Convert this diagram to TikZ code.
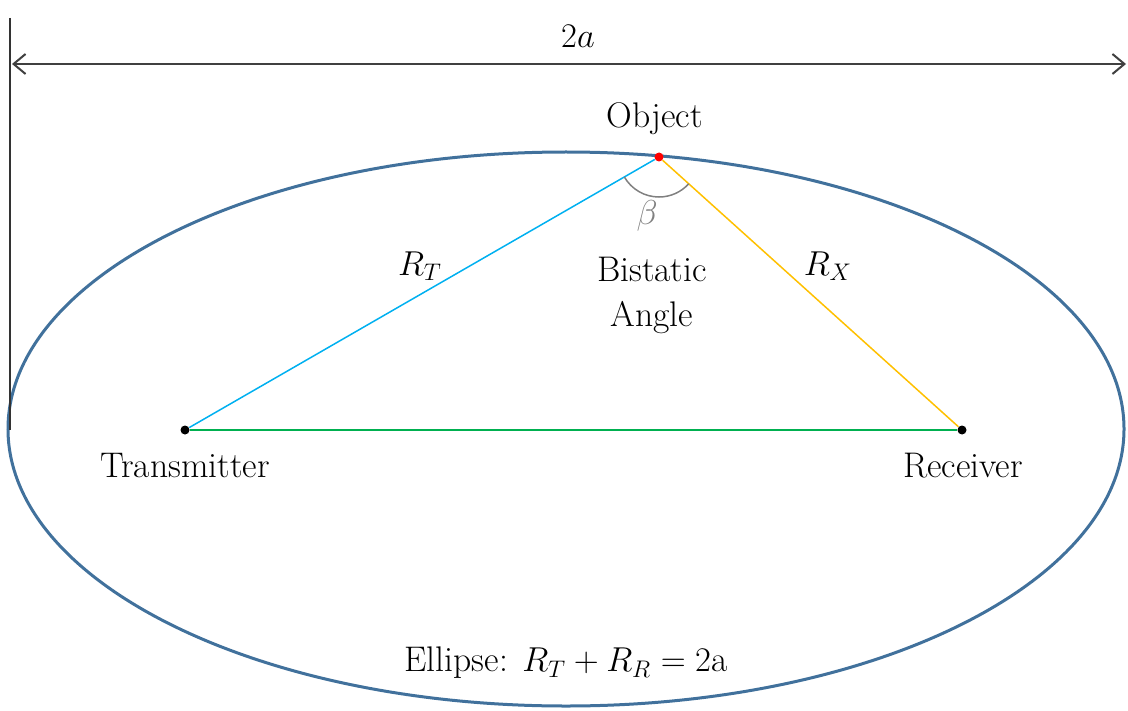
\documentclass[tikz,border=0pt]{standalone}
\usepackage{amsmath}
\usepackage{fontspec}
\usepackage{tikz}
\usetikzlibrary{arrows.meta, positioning}
\definecolor{ellblue}{RGB}{65,113,156}
\definecolor{txcyan}{RGB}{0,176,240}
\definecolor{rxgold}{RGB}{255,192,0}
\definecolor{basegreen}{RGB}{0,176,80}
\definecolor{arcgray}{RGB}{128,128,128}
\tikzstyle{txt}     = [font=\fontsize{17.8}{22.5}\selectfont, align=center, inner sep=0pt]
\tikzstyle{site}    = [circle, fill=black, minimum size=4.5pt, inner sep=0pt]
\tikzstyle{target}  = [circle, fill=red, minimum size=4.5pt, inner sep=0pt]
\tikzstyle{leg}     = [line width=0.75pt]
\tikzstyle{dimline} = [line width=1pt, draw=black!75, {Straight Barb[length=6pt,width=10pt]}-{Straight Barb[length=6pt,width=10pt]}]

\begin{document}
\begin{tikzpicture}[x=0.5pt, y=-0.5pt]
    \useasboundingbox (0,0) rectangle (1128,711);

    % ellipse of constant range sum
    \draw [ellblue, line width=1.5pt] (566,429) ellipse [x radius=279pt, y radius=138.5pt];

    % sites
    \node (tx)  [site]   at (185,430) {};
    \node (rx)  [site]   at (962,430) {};
    \node (obj) [target] at (659,157) {};

    % paths
    \draw [leg, basegreen] (tx) -- (rx);
    \draw [leg, txcyan]    (tx) -- (obj);
    \draw [leg, rxgold]    (obj) -- (rx);

    % bistatic angle
    \draw [arcgray, line width=0.75pt] (obj.center) ++(210:20pt) arc [start angle=210, end angle=318, radius=20pt];

    % 2a dimension
    \coordinate (vtop) at (10,18);
    \coordinate (vbot) at (10,430);
    \coordinate (dl)   at (12,64);
    \coordinate (dr)   at (1126,64);
    \draw [line width=1pt, draw=black!80] (vtop) -- (vbot);
    \draw [dimline] (dl) -- (dr);

    % labels
    \node (twoa)  [txt] at (578,36)  {$2a$};
    \node (objl)  [txt] at (655,119) {Object};
    \node (rtl)   [txt] at (420,266) {$R_T$};
    \node (rxl)   [txt] at (828,266) {$R_X$};
    \node (beta)  [txt, text=arcgray] at (647,216) {$\beta$};
    \node (bist)  [txt] at (652,295) {Bistatic\\Angle};
    \node (txl)   [txt] at (185,466) {Transmitter};
    \node (rxlab) [txt] at (963,466) {Receiver};
    \node (eq)    [txt] at (566,663) {Ellipse: $R_T + R_R = 2\text{a}$};
\end{tikzpicture}
\end{document}
